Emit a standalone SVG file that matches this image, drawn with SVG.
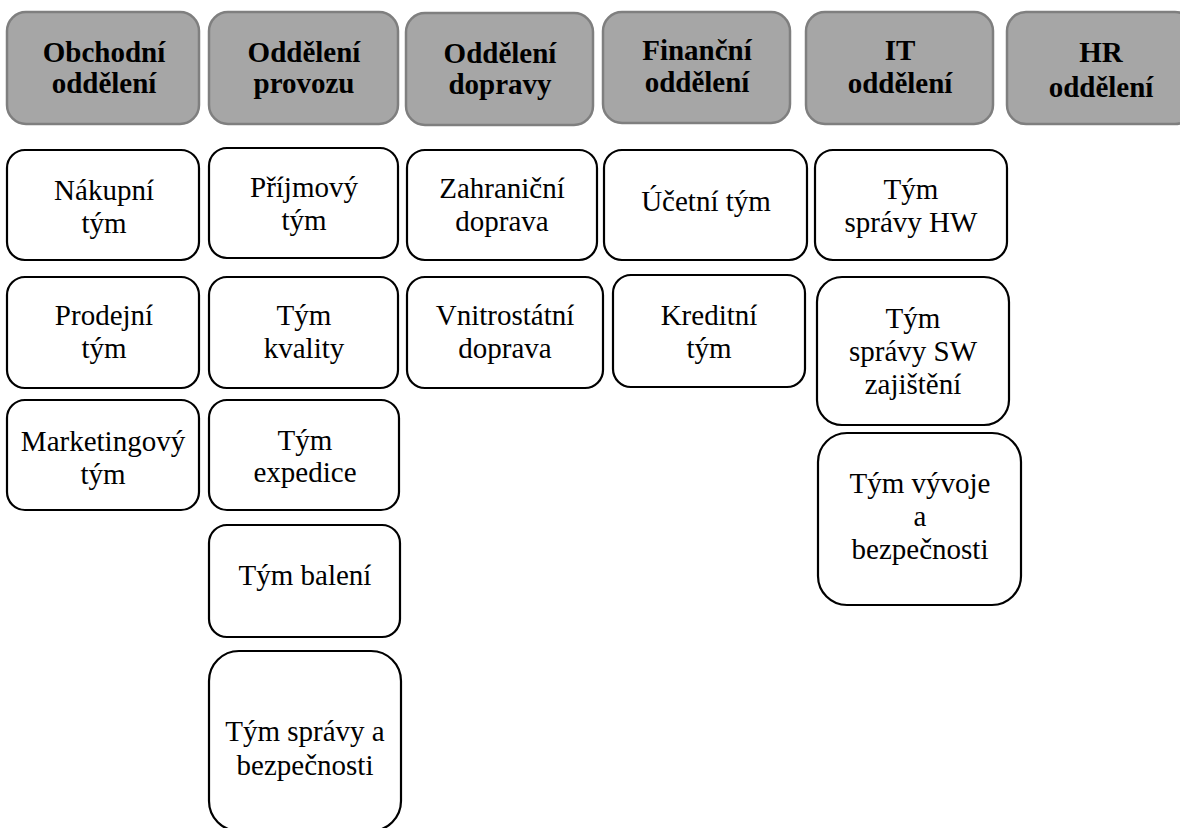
<svg xmlns="http://www.w3.org/2000/svg" width="1180" height="828" viewBox="0 0 1180 828">
<style>
.hd rect{fill:#a6a6a6;stroke:#7f7f7f;stroke-width:2.5}
.hd text{font-family:"Liberation Serif","Times New Roman",serif;font-weight:bold;font-size:29px;fill:#000;text-anchor:middle}
.tm rect{fill:#fff;stroke:#000;stroke-width:2.2}
.tm text{font-family:"Liberation Serif","Times New Roman",serif;font-size:29px;fill:#000;text-anchor:middle}
</style>
<rect width="1180" height="828" fill="#fff"/>
<g id="connectors"></g>
<g id="h1" class="hd"><rect x="7" y="12" width="192" height="112" rx="19"/><text x="104" y="62">Obchodní</text><text x="104" y="93">oddělení</text></g>
<g id="h2" class="hd"><rect x="209" y="12" width="189" height="112" rx="19"/><text x="304" y="62">Oddělení</text><text x="304" y="93">provozu</text></g>
<g id="h3" class="hd"><rect x="406" y="13" width="187" height="112" rx="19"/><text x="500" y="63">Oddělení</text><text x="500" y="94">dopravy</text></g>
<g id="h4" class="hd"><rect x="603" y="12" width="187" height="111" rx="19"/><text x="697" y="60">Finanční</text><text x="697" y="92">oddělení</text></g>
<g id="h5" class="hd"><rect x="806" y="12" width="187" height="112" rx="19"/><text x="900" y="60">IT</text><text x="900" y="93">oddělení</text></g>
<g id="h6" class="hd"><rect x="1007" y="12" width="187" height="112" rx="19"/><text x="1101" y="62">HR</text><text x="1101" y="97">oddělení</text></g>

<g id="t1" class="tm"><rect x="7" y="150" width="192" height="110" rx="18"/><text x="104" y="200">Nákupní</text><text x="104" y="233">tým</text></g>
<g id="t2" class="tm"><rect x="7" y="277" width="192" height="111" rx="18"/><text x="104" y="325">Prodejní</text><text x="104" y="358">tým</text></g>
<g id="t3" class="tm"><rect x="7" y="400" width="192" height="110" rx="18"/><text x="103" y="451">Marketingový</text><text x="103" y="484">tým</text></g>

<g id="t4" class="tm"><rect x="209" y="148" width="189" height="110" rx="18"/><text x="304" y="197">Příjmový</text><text x="304" y="230">tým</text></g>
<g id="t5" class="tm"><rect x="209" y="277" width="189" height="111" rx="18"/><text x="304" y="325">Tým</text><text x="304" y="358">kvality</text></g>
<g id="t6" class="tm"><rect x="209" y="400" width="190" height="110" rx="18"/><text x="305" y="450">Tým</text><text x="305" y="482">expedice</text></g>
<g id="t7" class="tm"><rect x="209" y="525" width="191" height="112" rx="18"/><text x="305" y="585">Tým balení</text></g>
<g id="t8" class="tm"><rect x="209" y="651" width="192" height="180" rx="30"/><text x="305" y="741">Tým správy a</text><text x="305" y="775">bezpečnosti</text></g>

<g id="t9" class="tm"><rect x="407" y="150" width="190" height="110" rx="18"/><text x="502" y="198">Zahraniční</text><text x="502" y="231">doprava</text></g>
<g id="t10" class="tm"><rect x="407" y="277" width="196" height="111" rx="18"/><text x="505" y="325">Vnitrostátní</text><text x="505" y="358">doprava</text></g>

<g id="t11" class="tm"><rect x="604" y="150" width="203" height="110" rx="18"/><text x="706" y="211">Účetní tým</text></g>
<g id="t12" class="tm"><rect x="613" y="275" width="192" height="112" rx="18"/><text x="709" y="325">Kreditní</text><text x="709" y="358">tým</text></g>

<g id="t13" class="tm"><rect x="815" y="150" width="192" height="110" rx="18"/><text x="911" y="199">Tým</text><text x="911" y="232">správy HW</text></g>
<g id="t14" class="tm"><rect x="817" y="277" width="192" height="148" rx="25"/><text x="913" y="328">Tým</text><text x="913" y="361">správy SW</text><text x="913" y="394">zajištění</text></g>
<g id="t15" class="tm"><rect x="818" y="433" width="203" height="172" rx="29"/><text x="920" y="493">Tým vývoje</text><text x="920" y="526">a</text><text x="920" y="559">bezpečnosti</text></g>
</svg>
